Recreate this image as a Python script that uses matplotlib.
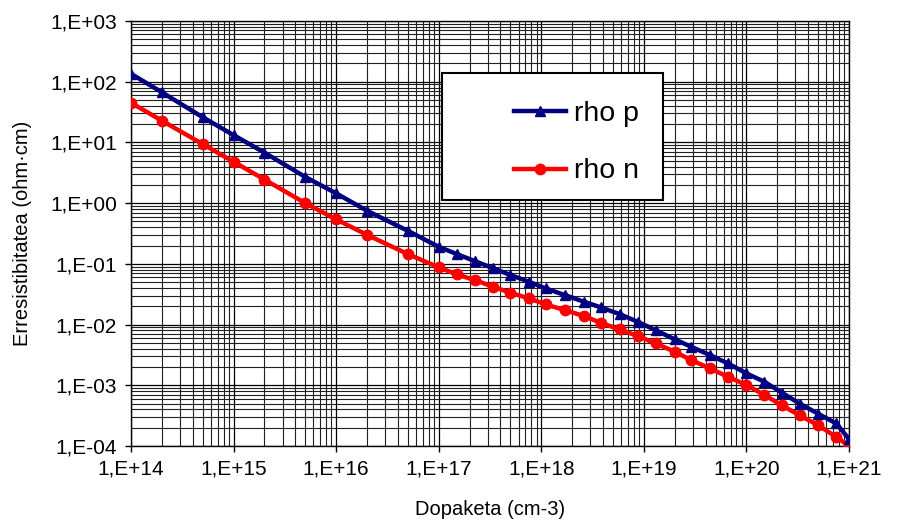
import numpy as np
import matplotlib
matplotlib.use('Agg')
import matplotlib.pyplot as plt
from matplotlib.patches import Rectangle

plt.rcParams['font.family'] = ['Liberation Sans', 'DejaVu Sans']

# doping values (cm-3)
doping = [1e14, 2e14, 5e14, 1e15, 2e15, 5e15, 1e16, 2e16, 5e16,
          1e17, 1.5e17, 2.25e17, 3.4e17, 5e17, 7.6e17, 1.1e18, 1.7e18,
          2.6e18, 3.8e18, 5.8e18, 8.7e18, 1.3e19, 2e19, 2.9e19, 4.4e19,
          6.6e19, 1e20, 1.5e20, 2.2e20, 3.3e20, 5e20, 7.5e20, 1e21]

rho_p = [135, 67, 26, 13.2, 6.8, 2.7, 1.45, 0.75, 0.35,
         0.191, 0.145, 0.111, 0.0844, 0.0655, 0.0507, 0.0394, 0.0306,
         0.0238, 0.0192, 0.0149, 0.0111, 0.0081, 0.0057, 0.0043, 0.00315,
         0.00229, 0.00157, 0.00114, 0.00076, 0.0005, 0.00034, 0.000235, 0.00013]

rho_n = [45, 22.8, 9.4, 4.8, 2.45, 1.0, 0.54, 0.3, 0.145,
         0.0875, 0.067, 0.054, 0.042, 0.0334, 0.027, 0.0215, 0.0173,
         0.0138, 0.0107, 0.0083, 0.0065, 0.0049, 0.00357, 0.0026, 0.0019,
         0.00138, 0.00101, 0.00069, 0.00047, 0.00032, 0.00022, 0.000141, 0.0001]

xticks = [1e14, 1e15, 1e16, 1e17, 1e18, 1e19, 1e20, 1e21]
xlabels = ['1,E+14', '1,E+15', '1,E+16', '1,E+17', '1,E+18', '1,E+19', '1,E+20', '1,E+21']
yticks = [1e-4, 1e-3, 1e-2, 1e-1, 1e0, 1e1, 1e2, 1e3]
ylabels = ['1,E-04', '1,E-03', '1,E-02', '1,E-01', '1,E+00', '1,E+01', '1,E+02', '1,E+03']

fig = plt.figure(figsize=(9.01, 5.24), dpi=100)
ax = fig.add_axes([131/901, 1 - 446/524, 718/901, 425/524])

ax.set_xscale('log')
ax.set_yscale('log')
ax.set_xlim(1e14, 1e21)
ax.set_ylim(1e-4, 1e3)

ax.plot(doping, rho_p, color='#000080', lw=3.2, marker='^', ms=7.5, label='rho p', zorder=4)
ax.plot(doping, rho_n, color='#FF0000', lw=3.2, marker='o', ms=7.5, label='rho n', zorder=3)

ax.set_xticks(xticks)
ax.set_xticklabels(xlabels)
ax.set_yticks(yticks)
ax.set_yticklabels(ylabels)
ax.xaxis.set_minor_locator(matplotlib.ticker.LogLocator(base=10, subs=np.arange(2, 10)))
ax.yaxis.set_minor_locator(matplotlib.ticker.LogLocator(base=10, subs=np.arange(2, 10)))
ax.xaxis.set_minor_formatter(matplotlib.ticker.NullFormatter())
ax.yaxis.set_minor_formatter(matplotlib.ticker.NullFormatter())
ax.tick_params(which='major', direction='out', length=4, width=1, labelsize=15, pad=6)
ax.tick_params(which='minor', length=0)

ax.grid(which='major', color='black', lw=0.9)
ax.grid(which='minor', color='#202020', lw=0.8)
ax.set_axisbelow(True)
for s in ax.spines.values():
    s.set_linewidth(1)
    s.set_color('black')

ax.set_xlabel('Dopaketa (cm-3)', fontsize=14.5)
ax.set_ylabel('Erresistibitatea (ohm·cm)', fontsize=14.5)
ax.xaxis.set_label_coords(0.5, -0.128)
ax.yaxis.set_label_coords(-0.138, 0.5)

# legend box
box = Rectangle((0.433, 0.579), 0.308, 0.299, transform=ax.transAxes,
                facecolor='white', edgecolor='black', lw=1.5, zorder=5)
ax.add_patch(box)
leg = ax.legend(loc='center', bbox_to_anchor=(0.62, 0.714), frameon=False,
                fontsize=20.5, handlelength=1.85, handletextpad=0.25, labelspacing=1.12,
                borderpad=0)
leg.set_zorder(6)

fig.savefig('out.png', dpi=100)
